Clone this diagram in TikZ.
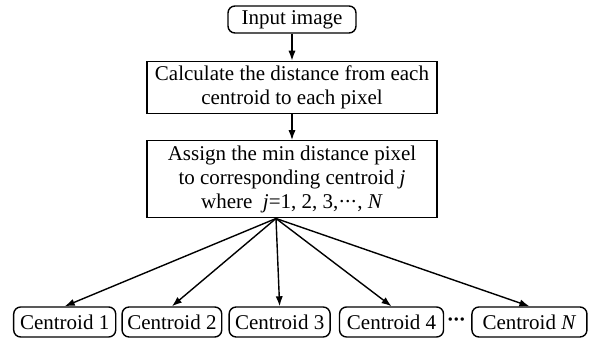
\documentclass[tikz,border=0pt]{standalone}
\usepackage{fontspec}
\setmainfont{Liberation Serif}
\usepackage{tikz}
\usetikzlibrary{arrows.meta,positioning,calc}

\newcommand{\tdots}{\textperiodcentered\kern-0.5pt\textperiodcentered\kern-0.5pt\textperiodcentered}

\begin{document}
\begin{tikzpicture}[
    font=\fontsize{10.5}{12}\selectfont,
    term/.style={rectangle, draw, line width=0.7pt, rounded corners=3.5pt,
        inner xsep=2.6pt, inner ysep=0pt, minimum height=15pt},
    proc/.style={rectangle, draw, line width=0.7pt, align=center,
        minimum width=145pt, inner sep=2pt},
    arr/.style={-{Latex[length=5pt,width=3.6pt]}, line width=0.7pt}
]
    \useasboundingbox (0,0) rectangle (298pt,-170.5pt);

    % Input
    \node[term, minimum width=64pt, minimum height=13.5pt] (inp) at (146pt,-9.75pt) {Input image};

    % Processing steps
    \node[proc, minimum height=26pt, below=13.5pt of inp] (dist)
        {Calculate the distance from each\\ centroid to each pixel};
    \node[proc, minimum height=38.5pt, below=13pt of dist] (assign)
        {Assign the min distance pixel\\ to corresponding centroid \textit{j}\\
         where \ \textit{j}=1, 2, 3,\tdots, \textit{N}};

    % Centroids
    \node[term, anchor=west, minimum width=51pt] (c1) at (6.5pt,-161pt) {Centroid 1};
    \node[term, minimum width=49pt, right=2.5pt of c1] (c2) {Centroid 2};
    \node[term, minimum width=50.5pt, right=3pt of c2] (c3) {Centroid 3};
    \node[term, minimum width=52pt, right=4pt of c3] (c4) {Centroid 4};
    \node[term, minimum width=57.5pt, right=13.5pt of c4] (cN) {Centroid \textit{N}};
    \node[inner sep=0pt, font=\fontsize{10.5}{12}\bfseries] (dots)
        at ($(c4.east)!0.45!(cN.west)$) {\tdots};

    % Arrows
    \draw[arr] (inp.south) -- (inp.south |- dist.north);
    \draw[arr] (inp.south |- dist.south) -- (inp.south |- assign.north);
    \coordinate (fan) at ([xshift=-8pt]assign.south);
    \foreach \c in {c1,c2,c3,c4,cN}
        \draw[arr] (fan) -- (\c.north);
\end{tikzpicture}
\end{document}
